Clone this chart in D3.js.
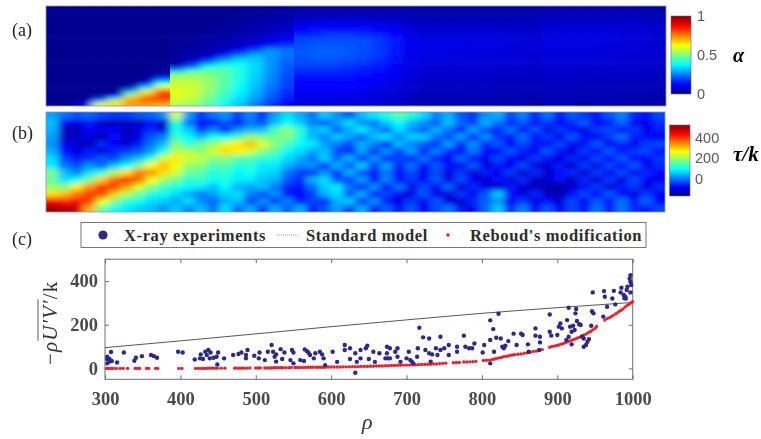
<!DOCTYPE html>
<html>
<head>
<meta charset="utf-8">
<script src="https://cdn.jsdelivr.net/npm/d3@7"></script>
<style>
  html, body { margin: 0; background: #fff; }
  svg { display: block; filter: blur(0.4px); }
  .serif { font-family: "Liberation Serif", serif; }
  .sans { font-family: "Liberation Sans", sans-serif; fill: #5a5a5a; font-size: 14.5px; }
</style>
</head>
<body>
<svg width="761" height="439"></svg>
<script>
// alpha field, 24 rows top to bottom, 40 columns left to right
let alphaGrid = [
  [0,0,0,0,0,0,0,0, 0,0,0,0,0,0,.01,.01, .02,.02,.02,.02,.02,.02,.02,.02, .02,.02,.02,.02,.02,.02,.02,.02, .03,.03,.03,.03,.03,.03,.03,.02],
  [0,0,0,0,0,0,0,0, 0,0,0,0,0,.01,.01,.02, .03,.03,.03,.03,.03,.03,.03,.03, .03,.03,.03,.03,.03,.03,.03,.03, .04,.04,.04,.04,.04,.04,.04,.03],
  [0,0,0,0,0,0,0,0, 0,0,0,0,.01,.01,.02,.03, .04,.05,.05,.05,.05,.05,.05,.04, .04,.04,.04,.04,.04,.04,.04,.04, .05,.05,.05,.05,.05,.05,.05,.04],
  [0,0,0,0,0,0,0,0, 0,0,0,.01,.01,.02,.03,.04, .07,.08,.08,.08,.08,.07,.07,.05, .05,.05,.05,.05,.05,.05,.05,.05, .06,.06,.06,.06,.06,.06,.06,.05],
  [0,0,0,0,0,0,0,0, 0,0,0,.01,.02,.03,.04,.05, .10,.11,.11,.11,.11,.10,.09,.07, .06,.06,.06,.06,.06,.06,.06,.06, .07,.07,.07,.07,.07,.07,.07,.06],
  [0,0,0,0,0,0,0,0, 0,0,.01,.01,.02,.03,.05,.06, .13,.14,.14,.14,.14,.13,.11,.08, .07,.07,.07,.07,.07,.07,.07,.06, .08,.08,.08,.08,.08,.08,.07,.07],
  [0,0,0,0,0,0,0,0, 0,.01,.01,.02,.03,.04,.06,.08, .15,.16,.17,.17,.16,.15,.13,.09, .08,.08,.08,.08,.08,.08,.07,.07, .085,.085,.085,.085,.08,.08,.08,.07],
  [0,0,0,0,0,0,0,0, .01,.01,.02,.02,.04,.06,.08,.10, .18,.18,.19,.19,.18,.17,.14,.10, .09,.09,.09,.09,.09,.08,.08,.07, .09,.09,.09,.09,.09,.08,.08,.07],
  [0,0,0,0,0,0,0,0, .01,.01,.02,.03,.05,.07,.10,.13, .19,.20,.20,.20,.20,.18,.15,.10, .09,.09,.09,.09,.09,.09,.08,.08, .09,.09,.09,.09,.09,.08,.08,.07],
  [0,0,0,0,0,0,0,0, .01,.02,.03,.04,.07,.10,.15,.18, .20,.21,.21,.21,.20,.18,.15,.11, .10,.10,.10,.09,.09,.09,.08,.08, .09,.09,.09,.09,.09,.08,.08,.07],
  [0,0,0,0,0,0,0,0, .01,.02,.03,.06,.10,.18,.26,.24, .21,.22,.22,.21,.20,.18,.15,.11, .10,.10,.09,.09,.09,.09,.08,.08, .09,.09,.09,.09,.08,.08,.08,.07],
  [0,0,0,0,0,0,0,0, .01,.03,.05,.10,.20,.28,.28,.24, .21,.22,.22,.21,.20,.18,.15,.10, .09,.09,.09,.09,.09,.08,.08,.08, .085,.085,.085,.08,.08,.08,.08,.07],
  [0,0,0,0,0,0,0,0, .02,.04,.10,.22,.31,.32,.27,.23, .20,.21,.21,.20,.19,.17,.14,.10, .09,.09,.09,.09,.08,.08,.08,.07, .08,.08,.08,.08,.08,.08,.07,.07],
  [0,0,0,0,0,0,0,0, .02,.08,.22,.33,.36,.33,.27,.22, .20,.20,.20,.19,.18,.16,.14,.10, .085,.085,.085,.08,.08,.08,.08,.07, .08,.08,.08,.08,.08,.07,.07,.07],
  [0,0,0,0,0,0,0,0, .04,.22,.38,.42,.40,.34,.27,.21, .18,.18,.18,.17,.16,.15,.13,.09, .08,.08,.08,.08,.08,.07,.07,.07, .075,.075,.075,.07,.07,.07,.07,.06],
  [0,0,0,0,0,0,0,.01, .30,.42,.47,.46,.40,.34,.27,.21, .17,.17,.17,.16,.15,.14,.12,.09, .08,.08,.07,.07,.07,.07,.07,.06, .07,.07,.07,.07,.07,.07,.06,.06],
  [0,0,0,0,0,0,0,.04, .50,.52,.50,.46,.40,.33,.26,.20, .15,.15,.15,.15,.14,.13,.11,.08, .07,.07,.07,.07,.07,.06,.06,.06, .065,.065,.065,.06,.06,.06,.06,.06],
  [0,0,0,0,0,0,.02,.20, .55,.55,.52,.46,.40,.33,.26,.19, .14,.14,.14,.14,.13,.12,.10,.08, .07,.07,.06,.06,.06,.06,.06,.05, .06,.06,.06,.06,.06,.05,.05,.05],
  [0,0,0,0,0,0,.10,.40, .57,.56,.52,.46,.39,.32,.25,.19, .13,.13,.13,.13,.12,.11,.09,.07, .06,.06,.06,.06,.06,.05,.05,.05, .055,.055,.055,.05,.05,.05,.05,.05],
  [0,0,0,0,0,.02,.32,.60, .58,.57,.52,.45,.38,.31,.24,.18, .12,.12,.12,.12,.11,.10,.09,.07, .06,.06,.06,.05,.05,.05,.05,.05, .05,.05,.05,.05,.05,.05,.05,.04],
  [0,0,0,0,0,.30,.58,.78, .60,.58,.52,.44,.37,.30,.23,.17, .11,.11,.11,.11,.10,.09,.08,.06, .05,.05,.05,.05,.05,.05,.05,.04, .05,.05,.05,.05,.05,.04,.04,.04],
  [0,0,0,0,.15,.55,.72,.82, .60,.57,.50,.43,.36,.29,.22,.16, .10,.10,.10,.10,.09,.09,.08,.06, .05,.05,.05,.05,.05,.04,.04,.04, .045,.045,.045,.04,.04,.04,.04,.04],
  [0,0,0,.22,.50,.72,.80,.80, .58,.55,.48,.41,.34,.27,.20,.15, .10,.10,.09,.09,.09,.08,.07,.05, .04,.04,.04,.04,.04,.04,.04,.03, .04,.04,.04,.04,.04,.04,.03,.03],
  [0,0,.12,.58,.66,.72,.72,.70, .55,.52,.46,.38,.32,.25,.18,.13, .09,.09,.08,.08,.08,.07,.06,.05, .04,.04,.04,.04,.04,.03,.03,.03, .04,.04,.03,.03,.03,.03,.03,.03]
];
// the solver sections show as steps in the field (column index where each starts)
let alphaSections = [0, 8, 16, 24, 32, 40];

// tau/k field, 14 rows, 50 columns
let tauGrid = [
  [40,10,-10,0,-20,-30,-30,-10,0,30, 240,40,-30,10,30,-20,20,-30,40,80, 50,10,70,30,-10,60,90,120,160,130, 80,20,50,-10,-30,30,50,-20,20,-40, 10,-50,-10,-30,-50,-10,20,-40,-60,-20],
  [60,-70,-90,-50,-110,-120,-110,-120,-60,-110, 130,10,-60,-70,-10,-60,10,-20,60,100, 70,20,-10,40,80,30,10,70,100,60, 30,-10,60,0,-30,50,10,-40,-10,-60, -30,-70,-40,-10,-70,-50,0,-70,-80,-40],
  [50,-110,-120,-70,-90,-70,-120,-80,-40,-100, 110,70,-30,20,-50,30,50,60,150,190, 130,50,70,-10,50,90,40,0,80,30, -10,50,10,-40,40,-20,-50,10,-60,-10, -80,-30,-60,-90,-30,-20,-70,-30,-90,-50],
  [40,-120,-110,-90,-120,-60,-110,-90,-10,20, 140,100,60,110,100,150,200,180,170,190, 120,60,20,70,40,-10,60,80,20,70, 70,10,-20,40,-50,30,-30,-60,10,-70, -30,-80,-10,-60,-80,-30,10,-50,-60,-80],
  [30,-80,-100,-120,-40,-70,-100,-50,10,60, 190,130,170,200,250,280,310,250,190,150, 100,90,40,10,-20,50,20,-40,60,20, -10,-40,40,-50,30,-40,-10,-70,-20,-50, -60,-20,-80,-50,-10,-70,-40,-80,-30,-20],
  [50,-60,-90,-50,-100,-40,-30,-10,40,120, 220,220,190,240,290,280,240,190,160,100, 80,40,60,-20,-40,40,-40,30,-30,40, -50,20,-40,-70,10,-60,-70,-10,-50,-80, -10,-60,-90,-30,-70,-10,-60,-30,-20,-60],
  [80,-20,-50,-40,-10,-30,30,60,130,240, 280,240,230,190,190,160,150,130,120,80, 50,10,70,0,50,-40,30,-50,-20,-60, 10,-50,-70,0,-60,-80,-20,-70,-90,-30, -60,-100,-40,-80,-20,-70,-10,-60,-70,-30],
  [90,10,-20,30,0,60,100,180,270,310, 260,200,190,150,160,120,130,90,90,50, 20,30,-40,50,-10,70,-30,40,-60,10, -70,-10,-60,-80,-10,-90,-50,-80,-20,-90, -100,-50,-110,-30,-90,-20,-70,-10,-80,-40],
  [180,60,20,80,130,210,290,360,340,290, 240,170,160,120,130,100,110,80,70,10, -30,-40,30,-40,50,-20,-50,10,-70,-20, -80,-20,-90,-30,-100,-50,-80,-30,-100,-40, -110,-60,-40,-100,-30,-70,-20,-80,-40,-70],
  [170,80,110,180,300,370,410,370,270,210, 170,130,140,110,120,90,90,60,50,-10, -40,50,80,-10,-30,40,-60,20,-60,-30, -70,-10,-90,-20,-70,-110,-60,-100,-40,-120, -100,-60,-120,-40,-100,-30,-90,-20,-70,-80],
  [200,190,280,340,400,400,330,250,190,140, 120,100,90,60,100,50,40,60,10,-40, -60,0,70,90,10,-50,30,-70,10,-80, -20,-70,0,-100,-40,-80,-110,-50,-100,-110, -130,-140,-100,-60,-30,-100,-50,-30,-90,-40],
  [290,310,360,400,400,300,220,170,120,110, 80,50,10,40,70,80,20,-20,30,-50, -70,-30,50,80,-10,50,-50,-20,-70,-90, -10,-80,-100,-30,-70,-10,70,-60,-90,-40, -110,-120,-60,-20,-70,-10,-60,-90,-30,-70],
  [440,420,430,400,270,190,130,110,80,70, 40,80,30,0,50,60,-30,30,-30,20, -60,-20,-50,50,70,-40,30,-60,-90,-30, -80,-10,-90,-110,-40,0,30,-80,-30,-90, -60,-100,-20,-70,-10,-60,10,-50,0,-70],
  [500,490,470,320,170,110,90,70,60,30, 70,20,60,10,80,0,50,-30,50,-10, 50,-50,-10,40,-30,50,-50,0,-60,-10, -70,-20,10,-50,-80,0,70,-40,20,-60, -10,-70,-20,-60,10,-50,10,-40,-50,-20]
];

// jet colours
let jetStops = [0, 0.125, 0.375, 0.625, 0.875, 1];
let jetColors = ['#00008f', '#0000ff', '#00ffff', '#ffff00', '#ff0000', '#800000'];

let alphaTicks = [0, 0.5, 1];
let tauTicks = [0, 200, 400];

// panel c
let xTicks = [300, 400, 500, 600, 700, 800, 900, 1000];
let yTicks = [0, 200, 400];

let xrayRho = [303,308,303,306,309,303,306,316,325,339,341,349,361,365,369,397,403,
  419,426,427,430,433,435,437,440,444,439,450,448,449,458,470,477,481,489,487,487,498,
  504,505,512,516,521,523,525,527,533,527,535,538,548,550,546,550,559,564,565,568,570,
  572,577,579,585,588,590,592,602,608,
  618,618,625,625,632,632,634,639,639,646,648,650,656,658,664,674,674,672,675,678,678,
  685,688,688,692,703,700,705,707,709,714,717,715,722,730,725,730,732,734,
  739,741,745,745,750,756,756,767,767,776,778,783,787,790,801,803,811,811,815,822,819,
  825,829,827,816,811,831,835,842,846,852,854,861,862,871,871,877,877,876,890,890,892,
  900,902,904,906,915,924,925,913,926,917,921,919,923,929,915,912,919,931,933,935,940,
  935,938,942,945,947,946,948,961,962,963,966,973,975,977,984,985,988,989,990,991,992,
  993,996,997,997,997,998];
let xrayVal = [53,75,43,31,34,23,43,27,73,35,49,56,61,56,49,76,73,
  41,46,64,43,76,61,84,73,49,46,73,53,18,46,61,66,73,84,61,46,58,
  46,73,38,76,107,76,53,64,88,31,43,73,84,73,38,23,38,34,87,79,72,
  61,46,69,76,64,46,15,76,30,
  107,84,92,43,69,-20,30,84,46,92,104,43,76,30,69,99,69,46,46,92,46,
  76,92,53,30,76,46,38,31,23,53,186,92,142,137,84,69,31,64,
  92,61,145,84,92,107,61,99,76,150,99,92,92,114,73,107,130,220,180,250,140,
  137,92,99,76,23,104,125,159,107,159,153,110,76,183,150,145,119,84,247,168,150,
  153,191,206,183,278,252,272,221,217,191,195,168,176,202,145,130,110,199,145,137,122,
  99,107,134,195,348,262,252,237,354,328,282,320,355,293,348,369,336,321,328,320,359,
  374,412,427,397,348,382];

let rebRho = [302,305,308,311,315,320,324,330,340,343,346,355,358,367,370,398,402,
  420,424,428,431,434,437,440,443,446,449,454,459,472,475,478,481,484,488,492,500,503,506,
  512,515,518,521,524,527,530,533,536,540,544,547,552,555,558,562,566,570,573,576,580,
  583,586,589,592,596,600,604,608,612,616,620,624,628,632,636,640,644,648,652,656,660,
  664,668,672,676,680,684,688,692,696,700,704,708,712,716,720,724,728,732,736,740,744,
  748,752,762,766,770,776,780,784,788,792,802,806,810,814,817,820,823,826,829,832,835,
  838,841,844,848,852,856,860,864,868,872,876,880,890,893,896,899,902,905,908,911,914,
  917,920,923,926,929,932,935,938,941,944,947,950,952,963,966,969,972,975,978,981,984,
  987,990,993,996,998,1000];
let rebVal = [0,0,0,0,0,0,0,0,0,0,0,0,0,0,0,0,0,
  0,0,0,0,0,1,1,1,1,1,1,1,1,1,1,1,1,1,2,2,2,2,
  2,2,2,2,3,3,3,3,3,3,3,4,4,4,4,4,4,5,5,5,5,
  5,5,5,5,6,6,6,6,6,7,7,7,8,8,8,9,9,9,10,10,11,
  11,11,12,12,13,13,14,14,15,15,15,16,16,17,18,18,19,19,20,20,22,
  23,24,26,27,27,29,29,30,31,32,36,37,38,41,43,46,48,50,54,55,57,
  60,61,63,65,66,69,71,74,77,79,83,86,97,100,102,105,107,111,114,118,122,
  126,130,134,138,142,148,152,157,163,169,176,183,192,221,228,232,238,244,250,258,265,
  272,281,289,296,301,305];

let stdRho = [300, 400, 500, 600, 700, 800, 900, 1000];
let stdVal = [95, 126, 158, 191, 222, 252, 278, 302];

let svg = d3.select('svg');
let defs = svg.append('defs');

let jetFrac = d3.scaleLinear().domain(jetStops).range(jetColors).interpolate(d3.interpolateRgb).clamp(true);

// blur filters for the heat maps
function addBlur(id, sx, sy) {
  defs.append('filter').attr('id', id)
      .attr('filterUnits', 'userSpaceOnUse')
      .attr('x', 0).attr('y', 0).attr('width', 761).attr('height', 439)
    .append('feGaussianBlur').attr('stdDeviation', sx + ' ' + sy);
}
addBlur('blurA', 4.5, 2);
addBlur('blurB', 3.6, 2.5);

function drawField(grid, box, lo, hi, sections, filterId, name) {
  let nRows = grid.length, nCols = grid[0].length;
  let x = d3.scaleBand().domain(d3.range(nCols)).range([box.x0, box.x1]);
  let y = d3.scaleBand().domain(d3.range(nRows)).range([box.y0, box.y1]);
  let t = d3.scaleLinear().domain([lo, hi]);
  let root = svg.append('g');
  let pad = 16;

  for (let s = 0; s < sections.length - 1; s++) {
    let a = sections[s], b = sections[s + 1];
    let left = x(a), right = b < nCols ? x(b) : box.x1;
    defs.append('clipPath').attr('id', name + s)
      .append('rect').attr('x', left).attr('y', box.y0)
      .attr('width', right - left).attr('height', box.y1 - box.y0);

    let cells = [];
    grid.forEach((row, r) => {
      d3.range(a, b).forEach(c => cells.push({r: r, c: c, v: row[c]}));
    });

    root.append('g').attr('clip-path', `url(#${name}${s})`)
      .append('g').attr('filter', `url(#${filterId})`)
      .selectAll('rect').data(cells).enter().append('rect')
      .attr('x', d => x(d.c) - (d.c == a ? pad : 0))
      .attr('y', d => y(d.r) - (d.r == 0 ? pad : 0))
      .attr('width', d => x.bandwidth() + (d.c == a ? pad : 0) + (d.c == b - 1 ? pad : 0) + 0.5)
      .attr('height', d => y.bandwidth() + (d.r == 0 ? pad : 0) + (d.r == nRows - 1 ? pad : 0) + 0.5)
      .attr('fill', d => jetFrac(t(d.v)));
  }
  svg.append('rect').attr('x', box.x0).attr('y', box.y0)
    .attr('width', box.x1 - box.x0).attr('height', box.y1 - box.y0)
    .attr('fill', 'none').attr('stroke', '#8f93c8').attr('stroke-width', 0.8);
}

drawField(alphaGrid, {x0: 46, x1: 666, y0: 6, y1: 106}, 0, 1, alphaSections, 'blurA', 'secA');
drawField(tauGrid, {x0: 46, x1: 665, y0: 112, y1: 212}, -150, 520, [0, 50], 'blurB', 'secB');

function colorbar(id, box, lo, hi, ticks, tickX) {
  let grad = defs.append('linearGradient').attr('id', id)
    .attr('x1', 0).attr('x2', 0).attr('y1', 1).attr('y2', 0);
  jetStops.forEach((s, i) => grad.append('stop').attr('offset', s).attr('stop-color', jetColors[i]));
  svg.append('rect').attr('x', box.x).attr('y', box.y0)
    .attr('width', box.w).attr('height', box.y1 - box.y0)
    .attr('fill', `url(#${id})`).attr('stroke', '#6a6a8a').attr('stroke-width', 0.6);
  let sc = d3.scaleLinear().domain([lo, hi]).range([box.y1, box.y0]);
  svg.selectAll('text.' + id).data(ticks).enter().append('text')
    .attr('class', id + ' sans')
    .attr('x', tickX).attr('y', d => sc(d) + 5)
    .text(d => d);
}
colorbar('barA', {x: 671, w: 20, y0: 16, y1: 94}, 0, 1, alphaTicks, 697);
colorbar('barB', {x: 669.5, w: 20.5, y0: 125, y1: 196}, -160, 520, tauTicks, 695);

svg.append('text').attr('class', 'serif').attr('x', 733).attr('y', 62)
  .attr('font-size', 20).attr('font-weight', 'bold').attr('font-style', 'italic').text('α');
svg.append('text').attr('class', 'serif').attr('x', 733).attr('y', 161)
  .attr('font-size', 21).attr('font-weight', 'bold').attr('font-style', 'italic').text('τ/k');

[['(a)', 12, 36], ['(b)', 12, 139], ['(c)', 12, 245]].forEach(p => {
  svg.append('text').attr('class', 'serif').attr('x', p[1]).attr('y', p[2])
    .attr('font-size', 18).attr('fill', '#222').text(p[0]);
});

// panel c
let x = d3.scaleLinear().domain([300, 1000]).range([105, 632.7]);
let y = d3.scaleLinear().domain([-50, 500]).range([379.3, 259.2]);

svg.append('rect').attr('x', 105).attr('y', 259.2).attr('width', 527.7).attr('height', 120.1)
  .attr('fill', 'none').attr('stroke', '#6e6e6e').attr('stroke-width', 1);

function styleAxis(g) {
  g.select('.domain').remove();
  g.selectAll('line').attr('stroke', '#6e6e6e');
  g.selectAll('text')
    .attr('font-family', '"Liberation Serif", serif')
    .attr('font-weight', 'bold').attr('font-size', 18.5).attr('fill', '#4a4a4a');
}
svg.append('g').attr('transform', 'translate(0,379.3)')
  .call(d3.axisBottom(x).tickValues(xTicks).tickSizeInner(-4).tickPadding(13).tickFormat(d3.format('d')))
  .call(styleAxis);
svg.append('g').attr('transform', 'translate(0,259.2)')
  .call(d3.axisTop(x).tickValues(xTicks).tickSizeInner(-4).tickFormat(''))
  .call(styleAxis);
svg.append('g').attr('transform', 'translate(105,0)')
  .call(d3.axisLeft(y).tickValues(yTicks).tickSizeInner(-4).tickPadding(7).tickFormat(d3.format('d')))
  .call(styleAxis);
svg.append('g').attr('transform', 'translate(632.7,0)')
  .call(d3.axisRight(y).tickValues(yTicks).tickSizeInner(-4).tickFormat(''))
  .call(styleAxis);

let line = d3.line().x((d, i) => x(stdRho[i])).y(d => y(d)).curve(d3.curveMonotoneX);
svg.append('path').attr('d', line(stdVal)).attr('fill', 'none')
  .attr('stroke', '#444').attr('stroke-width', 0.9);

svg.append('g').selectAll('circle').data(rebVal).enter().append('circle')
  .attr('cx', (d, i) => x(rebRho[i])).attr('cy', d => y(d)).attr('r', 1.7)
  .attr('fill', '#e8222c');

svg.append('g').selectAll('circle').data(xrayVal).enter().append('circle')
  .attr('cx', (d, i) => x(xrayRho[i])).attr('cy', d => y(d)).attr('r', 2.2)
  .attr('fill', '#2f2a80');

// legend
svg.append('rect').attr('x', 81).attr('y', 222.5).attr('width', 565).attr('height', 25)
  .attr('fill', '#fff').attr('stroke', '#777').attr('stroke-width', 1);
svg.append('circle').attr('cx', 103).attr('cy', 235).attr('r', 4.6).attr('fill', '#2f2a80');
svg.append('line').attr('x1', 277).attr('x2', 298).attr('y1', 235).attr('y2', 235)
  .attr('stroke', '#999').attr('stroke-width', 1).attr('stroke-dasharray', '1 1');
svg.append('circle').attr('cx', 448).attr('cy', 235).attr('r', 1.8).attr('fill', '#e8222c');
[['X-ray experiments', 124], ['Standard model', 306], ["Reboud's modification", 470]].forEach(l => {
  svg.append('text').attr('class', 'serif').attr('x', l[1]).attr('y', 241)
    .attr('font-size', 16.5).attr('font-weight', 'bold').attr('fill', '#2c2c2c')
    .attr('letter-spacing', 0.62).text(l[0]);
});

// axis titles
let yTitle = svg.append('text').attr('class', 'serif')
  .attr('transform', 'translate(57,365) rotate(-90)')
  .attr('font-size', 21).attr('letter-spacing', 1.1).attr('fill', '#333');
let tMinus = yTitle.append('tspan').text('−');
let tRho = yTitle.append('tspan').attr('font-style', 'italic').text('ρ');
let tBar = yTitle.append('tspan').attr('font-style', 'italic').text("U′V′");
yTitle.append('tspan').text('/k');
// overline above U'V'
let barStart = tMinus.node().getComputedTextLength() + tRho.node().getComputedTextLength();
svg.append('line').attr('transform', 'translate(57,365) rotate(-90)')
  .attr('x1', barStart).attr('x2', barStart + tBar.node().getComputedTextLength())
  .attr('y1', -19).attr('y2', -19).attr('stroke', '#444').attr('stroke-width', 0.9);

svg.append('text').attr('class', 'serif').attr('x', 362).attr('y', 429)
  .attr('font-size', 22).attr('font-style', 'italic').attr('fill', '#333').text('ρ');
</script>
</body>
</html>
